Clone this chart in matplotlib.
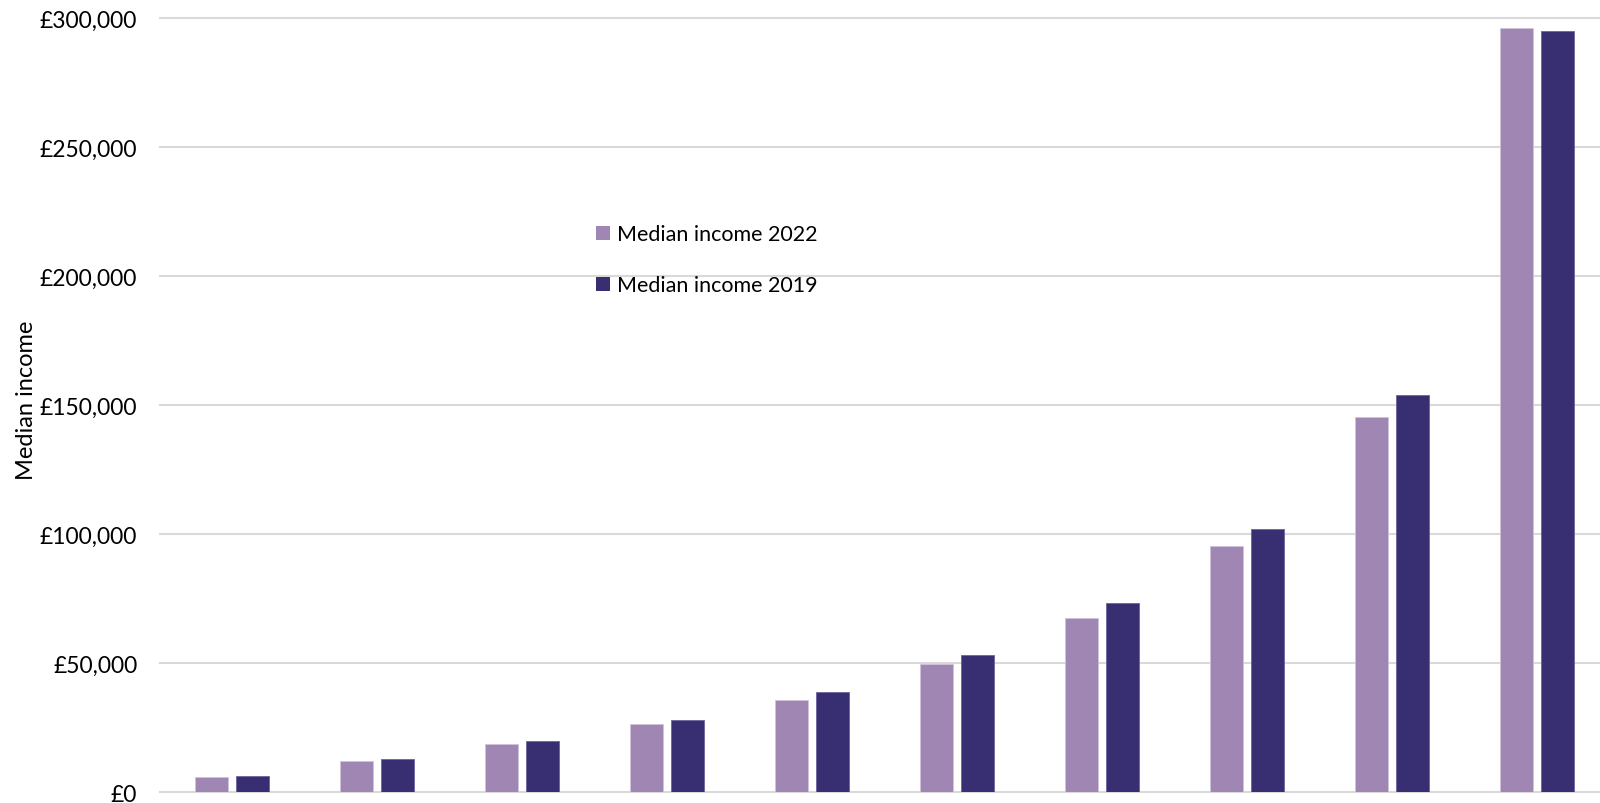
import matplotlib
matplotlib.use("Agg")
import matplotlib.pyplot as plt
import numpy as np
from matplotlib.ticker import FuncFormatter
from matplotlib.patches import Patch

categories = ["1", "2", "3", "4", "5", "6", "7", "8", "9", "10"]
income_2022 = [5800, 12100, 18600, 26300, 35800, 49600, 67700, 95500, 145300, 296100]
income_2019 = [6400, 12800, 19800, 27900, 38900, 53200, 73300, 102200, 154000, 295200]
labels = ["Median income 2022", "Median income 2019"]
colors = ["#A086B2", "#382E72"]

plt.rcParams['font.family'] = ['Lato', 'DejaVu Sans']

fig = plt.figure(figsize=(16, 8.04), dpi=100)
ax = fig.add_axes([0.0997, 0.0133, 0.906, 0.9627])

x = np.arange(len(categories))
w = 0.2276
off = 0.141
ax.bar(x - off, income_2022, width=w, color=colors[0], edgecolor="#CFC2DA", linewidth=0.6, zorder=3)
ax.bar(x + off, income_2019, width=w, color=colors[1], edgecolor="#6F62A0", linewidth=0.6, zorder=3)

ax.set_xlim(-0.5, 9.5)
ax.set_ylim(0, 300000)
ax.set_yticks(np.arange(0, 300001, 50000))
ax.yaxis.set_major_formatter(FuncFormatter(lambda v, p: f"£{int(v):,}"))
ax.set_xticks([])
ax.tick_params(axis='y', length=0, pad=16, labelsize=16.5, labelcolor="#000000")
ax.grid(axis='y', color="#D9D9D9", linewidth=1.5, zorder=0)
for gl in ax.get_ygridlines():
    gl.set_clip_on(False)
for s in ax.spines.values():
    s.set_visible(False)
fig.text(27 / 1600, 1 - 400 / 804, "Median income", rotation=90, ha="center", va="center", fontsize=17)

handles = [Patch(facecolor=c, edgecolor="none") for c in colors]
leg = ax.legend(handles, labels, loc="upper left", bbox_to_anchor=(0.295, 0.745),
                frameon=False, fontsize=15.5, handlelength=0.65, handleheight=0.65,
                handletextpad=0.35, labelspacing=1.45, borderaxespad=0)

fig.savefig("out.png", dpi=100, facecolor="white")
